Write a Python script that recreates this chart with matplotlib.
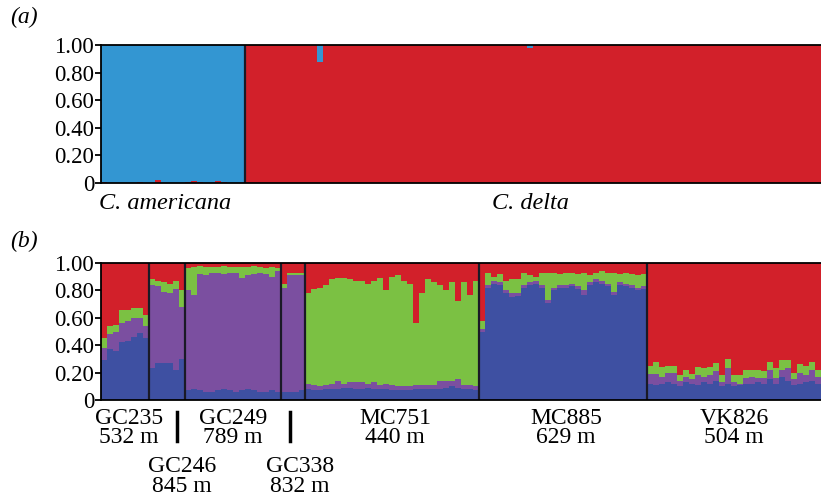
import numpy as np
import matplotlib.pyplot as plt
from matplotlib.lines import Line2D

plt.rcParams['font.family'] = ['Liberation Serif', 'DejaVu Serif']

# ---- panel (a): two species, membership to the "delta" (red) cluster ----
species = ['C. americana', 'C. delta']
species_n = [24, 96]
# red share at the bottom of each C. americana bar
americana_red = [0.008, 0, 0, 0, 0, 0, 0.005, 0, 0, 0.025, 0, 0,
                 0, 0, 0.01, 0.012, 0.01, 0, 0, 0.012, 0.01, 0, 0, 0]
# blue share at the top of each C. delta bar
delta_blue = [0] * 96
delta_blue[12] = 0.12
delta_blue[47] = 0.02

# ---- panel (b): C. delta sites, K = 4 ----
sites = ['GC235', 'GC246', 'GC249', 'GC338', 'MC751', 'MC885', 'VK826']
depths = ['532 m', '845 m', '789 m', '832 m', '440 m', '629 m', '504 m']
site_n = [8, 6, 16, 4, 29, 28, 29]

blue_top = (
    [0.29, 0.37, 0.36, 0.42, 0.43, 0.46, 0.49, 0.45]                       # GC235
    + [0.23, 0.27, 0.27, 0.27, 0.22, 0.30]                                 # GC246
    + [0.07, 0.08, 0.07, 0.06, 0.06, 0.07, 0.08, 0.07, 0.06, 0.07, 0.08,
       0.07, 0.06, 0.06, 0.07, 0.06]                                       # GC249
    + [0.06, 0.06, 0.06, 0.07]                                             # GC338
    + [0.08, 0.07, 0.07, 0.08, 0.08, 0.08, 0.09, 0.09, 0.08, 0.08, 0.09,
       0.08, 0.08, 0.08, 0.07, 0.07, 0.07, 0.07, 0.08, 0.08, 0.08, 0.08,
       0.08, 0.09, 0.10, 0.09, 0.08, 0.08, 0.07]                           # MC751
    + [0.50, 0.82, 0.85, 0.84, 0.78, 0.75, 0.76, 0.82, 0.84, 0.85, 0.82,
       0.71, 0.80, 0.82, 0.82, 0.83, 0.81, 0.77, 0.84, 0.86, 0.85, 0.83,
       0.77, 0.84, 0.83, 0.82, 0.80, 0.81]                                 # MC885
    + [0.12, 0.11, 0.12, 0.13, 0.12, 0.10, 0.13, 0.12, 0.11, 0.13, 0.12,
       0.14, 0.10, 0.12, 0.10, 0.11, 0.12, 0.12, 0.13, 0.12, 0.15, 0.12,
       0.17, 0.14, 0.11, 0.12, 0.13, 0.14, 0.12]                           # VK826
)
purple_top = (
    [0.38, 0.48, 0.50, 0.56, 0.58, 0.60, 0.60, 0.54]
    + [0.84, 0.83, 0.79, 0.78, 0.81, 0.68]
    + [0.80, 0.77, 0.92, 0.91, 0.93, 0.93, 0.92, 0.93, 0.93, 0.89, 0.91,
       0.92, 0.93, 0.92, 0.90, 0.94]
    + [0.82, 0.91, 0.91, 0.91]
    + [0.12, 0.11, 0.10, 0.11, 0.12, 0.14, 0.12, 0.13, 0.13, 0.13, 0.12,
       0.13, 0.11, 0.12, 0.11, 0.10, 0.10, 0.10, 0.11, 0.11, 0.11, 0.11,
       0.14, 0.14, 0.14, 0.15, 0.11, 0.11, 0.10]
    + [0.52, 0.84, 0.87, 0.86, 0.80, 0.78, 0.78, 0.84, 0.86, 0.87, 0.84,
       0.73, 0.82, 0.84, 0.84, 0.85, 0.83, 0.80, 0.86, 0.88, 0.87, 0.85,
       0.79, 0.86, 0.85, 0.84, 0.82, 0.83]
    + [0.19, 0.19, 0.17, 0.20, 0.20, 0.14, 0.17, 0.15, 0.18, 0.17, 0.18,
       0.21, 0.13, 0.23, 0.13, 0.12, 0.16, 0.17, 0.16, 0.16, 0.22, 0.16,
       0.22, 0.23, 0.15, 0.20, 0.18, 0.22, 0.17]
)
green_top = (
    [0.45, 0.54, 0.55, 0.66, 0.66, 0.67, 0.67, 0.62]
    + [0.88, 0.87, 0.86, 0.85, 0.87, 0.80]
    + [0.96, 0.97, 0.98, 0.97, 0.97, 0.97, 0.98, 0.97, 0.97, 0.97, 0.97,
       0.98, 0.97, 0.96, 0.97, 0.96]
    + [0.85, 0.93, 0.93, 0.93]
    + [0.78, 0.81, 0.82, 0.84, 0.88, 0.89, 0.89, 0.88, 0.87, 0.87, 0.85,
       0.87, 0.89, 0.80, 0.90, 0.91, 0.87, 0.85, 0.56, 0.78, 0.88, 0.86,
       0.84, 0.80, 0.86, 0.72, 0.86, 0.77, 0.87]
    + [0.58, 0.93, 0.90, 0.92, 0.87, 0.88, 0.88, 0.93, 0.91, 0.90, 0.93,
       0.93, 0.93, 0.92, 0.93, 0.93, 0.92, 0.93, 0.91, 0.93, 0.94, 0.93,
       0.93, 0.92, 0.93, 0.92, 0.91, 0.92]
    + [0.25, 0.28, 0.24, 0.25, 0.25, 0.18, 0.22, 0.19, 0.24, 0.23, 0.24,
       0.27, 0.18, 0.30, 0.18, 0.18, 0.22, 0.22, 0.22, 0.21, 0.28, 0.23,
       0.29, 0.29, 0.20, 0.26, 0.25, 0.28, 0.22]
)
# label centres along the x axis (individual units) and row
label_x = [4.6, 13.5, 22.0, 33.2, 49.0, 77.5, 105.5]
label_row = [0, 1, 0, 1, 0, 0, 0]
species_label_x = [10.7, 71.5]

RED = '#d2202a'
SKYBLUE = '#3396d2'
BLUE = '#3e50a2'
PURPLE = '#7b4fa0'
GREEN = '#7bc143'
SEP = '#1a1a26'

fig = plt.figure(figsize=(8.21, 4.97), dpi=100)
ax_a = fig.add_axes([101 / 821, 1 - 183 / 497, 720 / 821, 138 / 497])
ax_b = fig.add_axes([101 / 821, 1 - 400 / 497, 720 / 821, 137 / 497])


def style(ax, n):
    ax.set_xlim(0, n)
    ax.set_ylim(0, 1)
    ax.set_xticks([])
    ax.set_yticks([0, 0.2, 0.4, 0.6, 0.8, 1.0])
    ax.set_yticklabels(['0', '0.20', '0.40', '0.60', '0.80', '1.00'])
    ax.tick_params(axis='y', direction='out', length=4, width=1.3,
                   labelsize=16.5, pad=1)
    ax.spines['right'].set_visible(False)
    for s in ['top', 'left', 'bottom']:
        ax.spines[s].set_linewidth(1.3)
        ax.spines[s].set_color('black')


# panel (a)
n_a = sum(species_n)
edges_a = np.arange(n_a + 1)
red_a = np.array(americana_red + [1 - b for b in delta_blue])
ax_a.stairs(red_a, edges_a, baseline=0, fill=True, color=RED, lw=0)
ax_a.stairs(np.ones(n_a), edges_a, baseline=red_a, fill=True, color=SKYBLUE, lw=0)
style(ax_a, n_a)
ax_a.axvline(species_n[0], color=SEP, lw=1.6)
for name, x in zip(species, species_label_x):
    ax_a.text(x, -0.07, name, ha='center', va='top', fontsize=17.5,
              style='italic')

# panel (b)
n_b = sum(site_n)
edges_b = np.arange(n_b + 1)
b = np.array(blue_top)
p = np.array(purple_top)
g = np.array(green_top)
ax_b.stairs(b, edges_b, baseline=0, fill=True, color=BLUE, lw=0)
ax_b.stairs(p, edges_b, baseline=b, fill=True, color=PURPLE, lw=0)
ax_b.stairs(g, edges_b, baseline=p, fill=True, color=GREEN, lw=0)
ax_b.stairs(np.ones(n_b), edges_b, baseline=g, fill=True, color=RED, lw=0)
style(ax_b, n_b)
for x in np.cumsum(site_n)[:-1]:
    ax_b.axvline(x, color=SEP, lw=1.6)

for name, dep, x, row in zip(sites, depths, label_x, label_row):
    y = -0.055 - row * 0.355
    ax_b.text(x, y, name + '\n' + dep, ha='center', va='top', fontsize=17,
              linespacing=0.92)
# short markers between the staggered labels
for x in [12.7, 31.5]:
    ax_b.add_line(Line2D([x, x], [-0.09, -0.30], color='black', lw=2.5,
                         clip_on=False))

fig.text(10 / 821, 1 - 17 / 497, '(a)', fontsize=17, style='italic',
         va='center')
fig.text(10 / 821, 1 - 241 / 497, '(b)', fontsize=17, style='italic',
         va='center')

fig.savefig('out.png', dpi=100)
